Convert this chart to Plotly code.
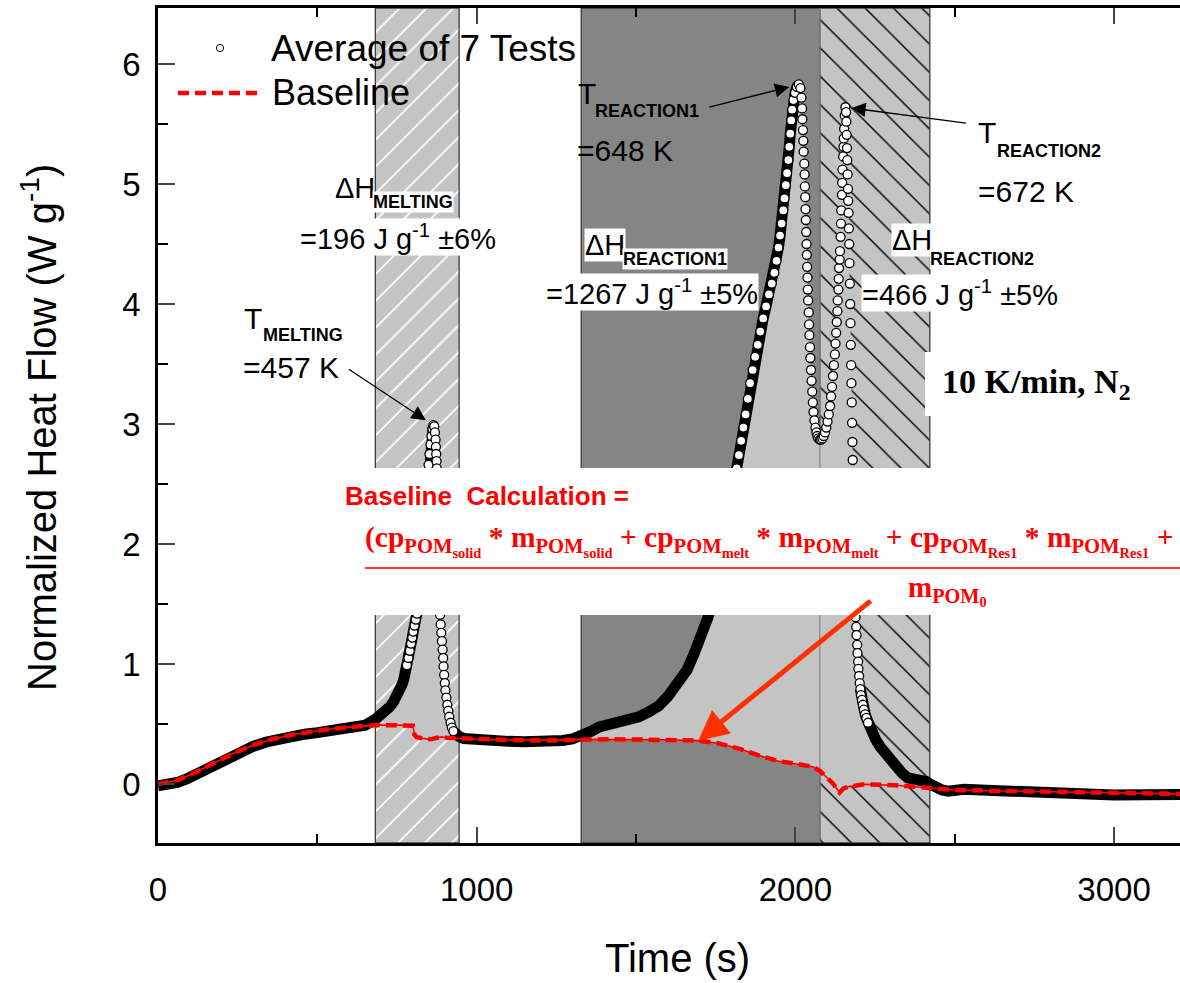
import plotly.graph_objects as go

# ---------------- data ----------------
# Average heat flow of 7 DSC tests (time in s, heat flow in W/g)
t_avg = [0, 30, 60, 90, 120, 150, 180, 210, 240, 270, 300, 340, 380, 420, 460, 500, 540, 580, 620, 650,
         682, 700, 715, 728, 740, 750, 759, 766, 772, 777, 781, 786, 790, 794, 798, 801, 805, 809, 813, 817,
         825, 833, 840, 846, 849, 852, 855, 858, 861, 864, 867, 869, 871, 872, 873, 874, 875, 878, 881, 883,
         885, 887, 889, 891, 893, 895, 896, 898, 900, 902, 905, 908, 911, 914, 918, 922, 927, 935, 945, 960,
         1000, 1050, 1100, 1150, 1200, 1240, 1270, 1300, 1328, 1360, 1385, 1420, 1447, 1480, 1509, 1540, 1571, 1600, 1633, 1660,
         1683, 1705, 1726, 1760, 1790, 1816, 1823, 1830, 1837, 1844, 1851, 1858, 1866, 1874, 1882, 1890, 1899, 1908, 1917, 1926,
         1934, 1941, 1947, 1952, 1957, 1962, 1966, 1970, 1974, 1978, 1981, 1984, 1987, 1990, 1994, 1999, 2005, 2011, 2016, 2019,
         2021, 2022, 2024, 2025, 2026, 2028, 2029, 2030, 2031, 2032, 2033, 2034, 2035, 2036, 2037, 2038, 2039, 2040, 2042, 2043,
         2044, 2046, 2047, 2049, 2051, 2053, 2055, 2057, 2060, 2063, 2066, 2069, 2072, 2077, 2081, 2085, 2089, 2093, 2097, 2101,
         2105, 2109, 2112, 2115, 2118, 2121, 2124, 2126, 2128, 2130, 2132, 2133, 2135, 2136, 2137, 2139, 2140, 2142, 2143, 2144,
         2146, 2147, 2148, 2150, 2151, 2152, 2153, 2155, 2157, 2159, 2160, 2161, 2162, 2163, 2164, 2165, 2166, 2167, 2168, 2169,
         2170, 2171, 2172, 2173, 2174, 2175, 2176, 2177, 2178, 2179, 2180, 2183, 2186, 2189, 2191, 2192, 2194, 2195, 2197, 2198,
         2200, 2202, 2204, 2206, 2209, 2212, 2215, 2219, 2223, 2228, 2240, 2252, 2266, 2280, 2300, 2316, 2335, 2353, 2370, 2385,
         2395, 2410, 2422, 2440, 2460, 2480, 2500, 2530, 2600, 2700, 2800, 2900, 3000, 3100, 3207]
q_avg = [-0.015, -0.01, 0.012, 0.042, 0.08, 0.12, 0.165, 0.21, 0.25, 0.285, 0.315, 0.35, 0.378, 0.4, 0.415, 0.428, 0.44, 0.455, 0.47, 0.49,
         0.54, 0.575, 0.61, 0.645, 0.69, 0.73, 0.78, 0.83, 0.88, 0.93, 0.99, 1.05, 1.11, 1.17, 1.22, 1.27, 1.32, 1.37, 1.42, 1.48,
         1.72, 2.02, 2.32, 2.56, 2.66, 2.75, 2.83, 2.9, 2.96, 2.99, 2.98, 2.93, 2.87, 2.81, 2.75, 2.69, 2.63, 2.2, 1.8, 1.55,
         1.41, 1.33, 1.26, 1.19, 1.12, 1.05, 0.98, 0.91, 0.84, 0.78, 0.72, 0.66, 0.61, 0.56, 0.51, 0.47, 0.44, 0.41, 0.395, 0.378,
         0.366, 0.36, 0.355, 0.352, 0.35, 0.353, 0.362, 0.375, 0.395, 0.44, 0.475, 0.497, 0.51, 0.53, 0.56, 0.6, 0.65, 0.73, 0.84, 0.95,
         1.09, 1.23, 1.39, 1.75, 2.15, 2.63, 2.74, 2.86, 2.97, 3.08, 3.21, 3.34, 3.45, 3.56, 3.66, 3.77, 3.88, 3.98, 4.08, 4.17,
         4.26, 4.36, 4.47, 4.57, 4.67, 4.78, 4.88, 4.99, 5.09, 5.2, 5.31, 5.42, 5.53, 5.62, 5.7, 5.76, 5.81, 5.83, 5.8, 5.72,
         5.63, 5.54, 5.45, 5.36, 5.27, 5.17, 5.08, 4.98, 4.89, 4.79, 4.7, 4.6, 4.5, 4.41, 4.31, 4.22, 4.12, 4.03, 3.93, 3.83,
         3.74, 3.64, 3.55, 3.45, 3.36, 3.27, 3.18, 3.1, 3.03, 2.97, 2.93, 2.9, 2.88, 2.87, 2.87, 2.88, 2.9, 2.93, 2.97, 3.02,
         3.08, 3.15, 3.23, 3.31, 3.4, 3.49, 3.58, 3.67, 3.76, 3.85, 3.94, 4.03, 4.12, 4.21, 4.3, 4.37, 4.44, 4.56, 4.67, 4.78,
         4.91, 5.01, 5.12, 5.23, 5.31, 5.38, 5.46, 5.57, 5.64, 5.6, 5.52, 5.41, 5.3, 5.2, 5.08, 4.96, 4.86, 4.76, 4.63, 4.5,
         4.34, 4.17, 4.0, 3.84, 3.66, 3.49, 3.34, 3.18, 3.01, 2.85, 2.7, 2.25, 1.8, 1.39, 1.31, 1.24, 1.16, 1.09, 1.02, 0.96,
         0.9, 0.84, 0.79, 0.74, 0.7, 0.66, 0.62, 0.58, 0.55, 0.51, 0.44, 0.37, 0.31, 0.26, 0.19, 0.144, 0.09, 0.05, 0.04, 0.052,
         0.045, 0.02, 0.0, -0.03, -0.05, -0.06, -0.055, -0.045, -0.052, -0.065, -0.08, -0.09, -0.092, -0.09, -0.087]

# Calculated baseline
t_base = [0, 60, 120, 180, 240, 300, 360, 420, 480, 540, 600, 682, 750, 800, 805, 812, 830, 855, 875, 890,
          905, 945, 1000, 1100, 1200, 1260, 1328, 1400, 1500, 1600, 1695, 1757, 1820, 1881, 1944, 2005, 2055, 2077, 2100, 2117,
          2139, 2150, 2167, 2216, 2315, 2422, 2501, 2600, 2749, 2996, 3207]
q_base = [0.0, 0.03, 0.1, 0.18, 0.26, 0.325, 0.375, 0.41, 0.437, 0.458, 0.474, 0.49, 0.49, 0.485, 0.41, 0.39, 0.38, 0.372, 0.385, 0.392,
          0.385, 0.38, 0.372, 0.366, 0.362, 0.365, 0.372, 0.372, 0.371, 0.368, 0.361, 0.339, 0.297, 0.242, 0.192, 0.167, 0.144, 0.11, 0.05, 0.006,
          -0.072, -0.04, -0.022, -0.003, -0.011, -0.036, -0.05, -0.056, -0.064, -0.078, -0.083]

# Integration windows (s)
melt_window = (682, 945)
rxn1_window = (1328, 2077)
rxn2_window = (2077, 2422)

x_tick_vals = [0, 1000, 2000, 3000]
y_tick_vals = [0, 1, 2, 3, 4, 5, 6]

# ---------------- layout constants ----------------
W, H = 1180, 983
L, R, T, B = 158, 1180, 8, 843
X_RANGE = [0, 3207]
Y_RANGE = [-0.492, 6.467]
SANS = "Liberation Sans, Arial, sans-serif"
SERIF = "Liberation Serif, Times New Roman, serif"

LIGHT = "#c4c4c4"
DARK = "#858585"


def px(x):
    return (x - L) / (R - L)


def py(y):
    return (B - y) / (B - T)


fig = go.Figure()


def window_rect(win, **kw):
    x0, x1 = win
    fig.add_trace(go.Scatter(
        x=[x0, x1, x1, x0, x0], y=[Y_RANGE[0], Y_RANGE[0], Y_RANGE[1], Y_RANGE[1], Y_RANGE[0]],
        mode="lines", fill="toself", line=dict(color="#3c3c3c", width=1.3),
        hoverinfo="skip", showlegend=False, **kw))


# shaded integration windows
window_rect(melt_window, fillcolor=LIGHT,
            fillpattern=dict(shape="/", fgcolor="white", bgcolor=LIGHT, size=19, solidity=0.09, fillmode="replace"))
window_rect(rxn1_window, fillcolor=DARK)
window_rect(rxn2_window, fillcolor=LIGHT,
            fillpattern=dict(shape="\\", fgcolor="black", bgcolor=LIGHT, size=20, solidity=0.07, fillmode="replace"))


# enthalpy areas between the signal and the baseline
def area_between(win):
    a, b = win
    xs = [t for t in t_avg if a <= t <= b]
    ys = [q for t, q in zip(t_avg, q_avg) if a <= t <= b]
    bx = [t for t in t_base if a <= t <= b][::-1]
    by = [q for t, q in zip(t_base, q_base) if a <= t <= b][::-1]
    fig.add_trace(go.Scatter(x=xs + bx, y=ys + by, mode="lines", fill="toself",
                             fillcolor=LIGHT, line=dict(width=0), hoverinfo="skip", showlegend=False))


for win in (melt_window, rxn1_window, rxn2_window):
    area_between(win)

# boundary between the two reaction windows
fig.add_trace(go.Scatter(x=[rxn2_window[0], rxn2_window[0]], y=Y_RANGE, mode="lines",
                         line=dict(color="#8a8a8a", width=1.2), hoverinfo="skip", showlegend=False))

# dense stretches of the averaged signal read as a solid band; steep stretches show single samples
band_gaps = [(864, 925), (2011, 2204)]
open_spans = [(780, 929), (1812, 2232)]


def in_any(t, spans):
    return any(a < t < b for a, b in spans)


band_x, band_y = [], []
prev_gap = False
for t, q in zip(t_avg, q_avg):
    if in_any(t, band_gaps):
        if not prev_gap:
            band_x.append(None)
            band_y.append(None)
        prev_gap = True
        continue
    prev_gap = False
    band_x.append(t)
    band_y.append(q)

fig.add_trace(go.Scatter(x=band_x, y=band_y, mode="lines", line=dict(color="black", width=11),
                         hoverinfo="skip", showlegend=False, connectgaps=False))

ox = [t for t in t_avg if in_any(t, open_spans)]
oy = [q for t, q in zip(t_avg, q_avg) if in_any(t, open_spans)]
fig.add_trace(go.Scatter(x=ox, y=oy, mode="markers", name="Average of 7 Tests",
                         marker=dict(symbol="circle", size=9, color="white", line=dict(color="black", width=1.3)),
                         showlegend=False))

# baseline
fig.add_trace(go.Scatter(x=t_base, y=q_base, mode="lines", line=dict(color="red", width=1.6),
                         hoverinfo="skip", showlegend=False))
fig.add_trace(go.Scatter(x=t_base, y=q_base, mode="lines", name="Baseline",
                         line=dict(color="red", width=4.5, dash="11px,6px"), showlegend=False))

shapes = []
# white panel holding the baseline formula
shapes.append(dict(type="rect", xref="paper", yref="paper", x0=px(362), x1=1.01, y0=py(615), y1=py(468),
                   fillcolor="white", line=dict(width=0), layer="above"))
# fraction bar
shapes.append(dict(type="line", xref="paper", yref="paper", x0=px(365), x1=1.01, y0=py(568), y1=py(568),
                   line=dict(color="#ff3030", width=2), layer="above"))
# condition label panel
shapes.append(dict(type="rect", xref="paper", yref="paper", x0=px(925), x1=px(1146), y0=py(416), y1=py(352),
                   fillcolor="white", line=dict(width=0), layer="above"))
# legend keys
shapes.append(dict(type="circle", xref="paper", yref="paper", xsizemode="pixel", ysizemode="pixel",
                   xanchor=px(220), yanchor=py(48), x0=-3.6, x1=3.6, y0=-3.6, y1=3.6,
                   fillcolor="white", line=dict(color="black", width=1), layer="above"))
shapes.append(dict(type="line", xref="paper", yref="paper", x0=px(178), x1=px(263), y0=py(93), y1=py(93),
                   line=dict(color="red", width=4.5, dash="11px,6px"), layer="above"))

ann = []


def label(text, x, y, size, xanchor="left", color="black", bg=None, family=SANS, angle=0):
    d = dict(text=text, xref="paper", yref="paper", x=px(x), y=py(y), xanchor=xanchor, yanchor="middle",
             showarrow=False, font=dict(family=family, size=size, color=color), textangle=angle, borderpad=0)
    if bg:
        d["bgcolor"] = bg
    ann.append(d)


# legend text
label("Average of 7 Tests", 270, 48, 37)
label("Baseline", 271, 92, 36)

# melting
label("T", 243, 318, 30)
label("<b>MELTING</b>", 262, 335, 18)
label("=457 K", 242, 367, 30)
label("\u0394H", 334, 188, 29)
label("<b>MELTING</b>", 372, 202, 18, bg="white")
label("=196 J g<sup>-1</sup> \u00b16%", 299, 237, 29, bg="white")

# first reaction
label("T", 577, 93, 30)
label("<b>REACTION1</b>", 594, 111, 18)
label("=648 K", 576, 150, 30)
label("\u0394H", 584, 245, 29, bg="white")
label("<b>REACTION1</b>", 622, 259, 18, bg="white")
label("=1267 J g<sup>-1</sup> \u00b15%", 545, 292, 29, bg="white")

# second reaction
label("T", 977, 133, 30)
label("<b>REACTION2</b>", 996, 151, 18)
label("=672 K", 977, 191, 30)
label("\u0394H", 891, 240, 29, bg="white")
label("<b>REACTION2</b>", 929, 259, 18, bg="white")
label("=466 J g<sup>-1</sup> \u00b15%", 861, 293, 29, bg="white")

# conditions
label("<b>10 K/min, N<sub>2</sub></b>", 1036, 384, 34, xanchor="center", family=SERIF)

# baseline formula
label("<b>Baseline\u00a0\u00a0Calculation =</b>", 344, 496, 26, color="red")
num = ("<b>(cp<sub>POM<sub>solid</sub></sub> * m<sub>POM<sub>solid</sub></sub> + "
       "cp<sub>POM<sub>melt</sub></sub> * m<sub>POM<sub>melt</sub></sub> + "
       "cp<sub>POM<sub>Res1</sub></sub> * m<sub>POM<sub>Res1</sub></sub> +</b>")
label(num, 364, 541, 29.5, color="red", family=SERIF)
label("<b>m<sub>POM<sub>0</sub></sub></b>", 947, 590, 29, xanchor="center", color="red", family=SERIF)

# axis titles
label("Time (s)", 677, 958, 40, xanchor="center")
ann.append(dict(text="Normalized Heat Flow (W g<sup>-1</sup>)", xref="paper", yref="paper",
                x=px(39), y=py(428), xanchor="center", yanchor="middle", showarrow=False, textangle=-90,
                font=dict(family=SANS, size=40, color="black")))


# arrows to the peak maxima
def peak(a, b):
    pts = [(q, t) for t, q in zip(t_avg, q_avg) if a <= t <= b]
    q, t = max(pts)
    return t, q


for (a, b), (dx, dy), stand in (((800, 900), (-86, -57), 9),
                                ((1900, 2077), (-91, 23), 10),
                                ((2100, 2300), (122, 16), 6)):
    t_pk, q_pk = peak(a, b)
    ann.append(dict(x=t_pk, y=q_pk, xref="x", yref="y", text="", showarrow=True, ax=dx, ay=dy,
                    arrowhead=2, arrowsize=2.2, arrowwidth=1.3, arrowcolor="black", standoff=stand))

# arrow from the formula to the baseline
ann.append(dict(x=t_base[30], y=q_base[30], xref="x", yref="y", text="", showarrow=True, ax=174, ay=-141,
                arrowhead=2, arrowsize=1.2, arrowwidth=5, arrowcolor="#ff3000", standoff=0))

fig.update_layout(
    width=W, height=H, margin=dict(l=L, r=W - R, t=T, b=H - B),
    paper_bgcolor="white", plot_bgcolor="white", showlegend=False,
    shapes=shapes, annotations=ann,
    font=dict(family=SANS, color="black"),
)
fig.update_xaxes(range=X_RANGE, tickvals=x_tick_vals, ticks="inside", ticklen=16, tickwidth=2,
                 minor=dict(dtick=500, ticks="inside", ticklen=9, tickwidth=2, tickcolor="black"),
                 showline=True, linewidth=2.5, linecolor="black", mirror="allticks",
                 showgrid=False, zeroline=False, tickfont=dict(size=33), ticklabelstandoff=16)
fig.update_yaxes(range=Y_RANGE, tickvals=y_tick_vals, ticks="inside", ticklen=17, tickwidth=2,
                 minor=dict(dtick=0.5, ticks="inside", ticklen=10, tickwidth=2, tickcolor="black"),
                 showline=True, linewidth=2.5, linecolor="black", mirror=False,
                 showgrid=False, zeroline=False, tickfont=dict(size=33), ticklabelstandoff=8)

fig.write_html("out.html")
